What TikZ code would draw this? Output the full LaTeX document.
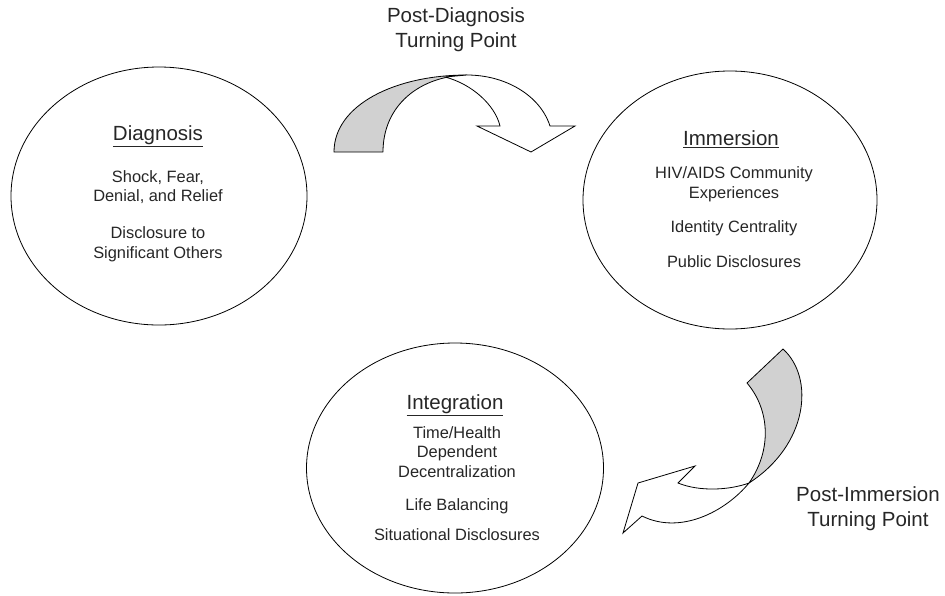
\documentclass[tikz,border=0pt]{standalone}
\usepackage{fontspec}
\setmainfont{Liberation Sans}
\usetikzlibrary{shapes.geometric}
\begin{document}
\begin{tikzpicture}[x=1pt,y=-1pt,
  stage/.style={draw, ellipse, line width=0.8pt, inner sep=0pt},
  ttl/.style={font=\fontsize{20.5}{24}\selectfont, text=black!85},
  body/.style={align=center, font=\fontsize{16.4}{19.5}\selectfont, text=black!85},
  lbl/.style={align=center, font=\fontsize{20.5}{25}\selectfont, text=black!85},
  back/.style={draw, fill=gray!36, line width=0.8pt, line join=round},
  front/.style={draw, fill=white, line width=0.8pt, line join=miter}]
\useasboundingbox (0,0) rectangle (945,595);

% stages
\node[stage, minimum width=296pt, minimum height=258pt] (diag) at (159,196) {};
\node[stage, minimum width=294pt, minimum height=258pt] (imm) at (730,200) {};
\node[stage, minimum width=297pt, minimum height=250pt] (integ) at (455,468) {};

\node[ttl] (diagT) at (158,136) {\underline{Diagnosis}};
\node[body] (diagA) at (158,187) {Shock, Fear,\\Denial, and Relief};
\node[body] (diagB) at (158,244.5) {Disclosure to\\Significant Others};

\node[ttl] (immT) at (731,139) {\underline{Immersion}};
\node[body] (immA) at (734,184.5) {HIV/AIDS Community\\Experiences};
\node[body] (immB) at (734,228) {Identity Centrality};
\node[body] (immC) at (734,262) {Public Disclosures};

\node[ttl] (intT) at (455,405) {\underline{Integration}};
\node[body] (intA) at (457,452) {Time/Health\\Dependent\\Decentralization};
\node[body] (intB) at (457,506) {Life Balancing};
\node[body] (intC) at (457,535) {Situational Disclosures};

% turning point labels
\node[lbl] (l1) at (456,30) {Post-Diagnosis\\Turning Point};
\node[lbl] (l2) at (868,509) {Post-Immersion\\Turning Point};

% post-diagnosis arrow
\coordinate (a1) at (334,152);
\coordinate (a2) at (383,152);
\coordinate (a3) at (467,75);
\coordinate (a4) at (445,77);
\path[back] (a1) .. controls (334,105) and (395,75) .. (a3)
  .. controls (420,76) and (383,105) .. (a2) -- cycle;
\path[front] (a4) .. controls (472,84) and (495,105) .. (500,126)
  -- (477,126) -- (531,152) -- (575,126) -- (550,126)
  .. controls (540,95) and (505,75) .. (a3) -- cycle;

% post-immersion arrow
\coordinate (b1) at (783,349);
\coordinate (b2) at (747,383);
\coordinate (b3) at (749,483);
\path[back] (b1) .. controls (815,378) and (808,445) .. (b3)
  .. controls (772,450) and (770,410) .. (b2) -- cycle;
\path[front] (b3) .. controls (730,490) and (700,492) .. (678,483)
  -- (695,466) -- (638,483) -- (623,533) -- (642,516)
  .. controls (680,535) and (725,512) .. (b3) -- cycle;
\end{tikzpicture}
\end{document}
